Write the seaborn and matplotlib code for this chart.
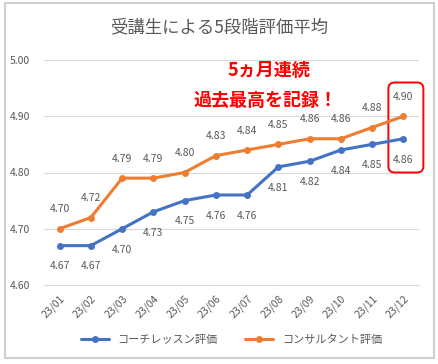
import pandas as pd
import matplotlib.pyplot as plt
import seaborn as sns
from matplotlib.patches import FancyBboxPatch, Rectangle

# data
months = ["23/01", "23/02", "23/03", "23/04", "23/05", "23/06",
          "23/07", "23/08", "23/09", "23/10", "23/11", "23/12"]
coach = [4.67, 4.67, 4.70, 4.73, 4.75, 4.76, 4.76, 4.81, 4.82, 4.84, 4.85, 4.86]
consult = [4.70, 4.72, 4.79, 4.79, 4.80, 4.83, 4.84, 4.85, 4.86, 4.86, 4.88, 4.90]
series_names = ["コーチレッスン評価", "コンサルタント評価"]
colors = ["#4472C4", "#ED7D31"]
title = "受講生による5段階評価平均"
note_lines = ["5ヵ月連続", "過去最高を記録！"]

sns.set_style("white")
plt.rcParams['font.family'] = ['Noto Sans CJK JP', 'DejaVu Sans']
grey = "#595959"

df = pd.DataFrame({
    "pos": list(range(len(months))) * 2,
    "value": coach + consult,
    "series": [series_names[0]] * len(months) + [series_names[1]] * len(months),
})

fig = plt.figure(figsize=(4.39, 3.64), dpi=100)
fig.patches.append(Rectangle((5 / 439, 6 / 364), 429 / 439, 355 / 364, transform=fig.transFigure,
                             fill=False, edgecolor="#D0D0D0", linewidth=1.5))
ax = fig.add_axes([44 / 439, 79 / 364, 375 / 439, 225 / 364])

sns.lineplot(data=df, x="pos", y="value", hue="series", palette=colors,
             marker="o", markersize=5, markeredgewidth=0, linewidth=2.2, ax=ax)

# data labels: orange above, blue below
for i, v in enumerate(coach):
    ax.annotate(f"{v:.2f}", (i, v), xytext=(0, -15), textcoords="offset points",
                ha="center", va="center", fontsize=7.5, color=grey)
for i, v in enumerate(consult):
    ax.annotate(f"{v:.2f}", (i, v), xytext=(0, 14), textcoords="offset points",
                ha="center", va="center", fontsize=7.5, color=grey)

ax.set_xlim(-0.5, len(months) - 0.5)
ax.set_ylim(4.60, 5.00)
ax.set_yticks([4.60, 4.70, 4.80, 4.90, 5.00])
ax.set_yticklabels([f"{t:.2f}" for t in [4.60, 4.70, 4.80, 4.90, 5.00]], fontsize=7.5, color=grey)
ax.set_xticks(range(len(months)))
ax.set_xticklabels(months, rotation=45, ha="right", rotation_mode="anchor", fontsize=7.5, color=grey)
ax.tick_params(axis="x", length=0, pad=6)
ax.tick_params(axis="y", length=0, pad=10)
ax.set_xticks([x - 0.5 for x in range(len(months) + 1)], minor=True)
ax.tick_params(axis="x", which="minor", length=4, color="#D9D9D9")
ax.grid(axis="y", color="#D9D9D9", linewidth=0.8)
ax.set_axisbelow(True)
for s in ["left", "right", "top"]:
    ax.spines[s].set_visible(False)
ax.spines["bottom"].set_color("#D9D9D9")
ax.set_xlabel("")
ax.set_ylabel("")

fig.text(0.5, 1 - 27 / 364, title, ha="center", va="center", fontsize=12.5, color=grey)

# highlight box and annotation
ax.add_patch(FancyBboxPatch((10.52, 4.80), 1.12, 0.16, boxstyle="round,pad=0,rounding_size=0.2",
                            mutation_aspect=0.056, fill=False, edgecolor="#FF0000",
                            linewidth=1.4, clip_on=False))
ax.text(6.7, 4.982, note_lines[0], ha="center", va="center", fontsize=13,
        fontweight="bold", color="#FF0000")
ax.text(6.6, 4.928, note_lines[1], ha="center", va="center", fontsize=13,
        fontweight="bold", color="#FF0000")

ax.legend(loc="center", bbox_to_anchor=(0.5, -0.245), ncol=2, frameon=False,
          fontsize=8, handlelength=2.5, columnspacing=2.5, labelcolor=grey)

fig.savefig("out.png", dpi=100)
